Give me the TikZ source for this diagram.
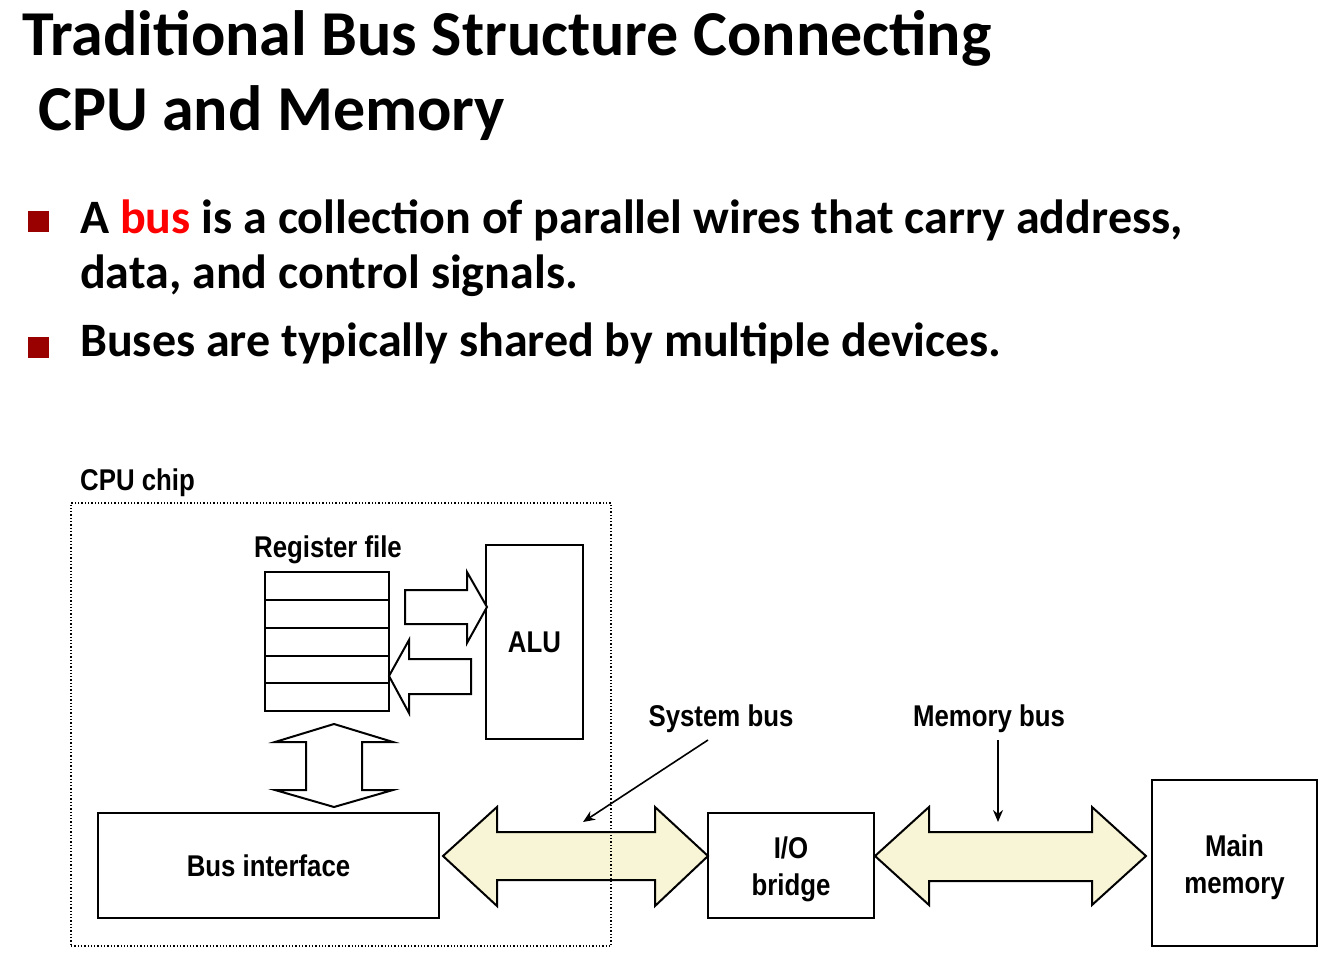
\documentclass[tikz,border=0pt]{standalone}
\usepackage{fontspec}
\setmainfont{Carlito}
\newfontfamily\labelfont[FakeStretch=0.86]{Liberation Sans}
\usetikzlibrary{arrows.meta}
\definecolor{busfill}{RGB}{248,244,214}
\definecolor{bulletred}{RGB}{153,0,0}
\definecolor{keyred}{RGB}{255,0,0}
\begin{document}
\begin{tikzpicture}[x=1pt,y=-1pt,
  titletext/.style={anchor=base west,inner sep=0pt,font=\fontsize{64}{72}\selectfont\bfseries},
  bullettext/.style={anchor=base west,inner sep=0pt,font=\fontsize{48}{56}\selectfont\bfseries},
  bulletmark/.style={fill=bulletred,draw=none,minimum size=21pt,inner sep=0pt},
  lbl/.style={inner sep=0pt,font=\labelfont\bfseries\fontsize{30}{37}\selectfont,align=center},
  box/.style={draw,line width=2pt,inner sep=0pt,font=\labelfont\bfseries\fontsize{30}{37}\selectfont,align=center},
  regbox/.style={draw,line width=2pt,inner sep=0pt,minimum width=124pt,minimum height=27.8pt},
  blockarrow/.style={draw,line width=2pt,line join=miter,fill=white},
  busarrow/.style={draw,line width=2pt,line join=miter,fill=busfill},
  pointer/.style={line width=1.6pt,-{Stealth[length=12pt,width=10pt]}}
]
\useasboundingbox (0,0) rectangle (1334,961);

% heading
\node[titletext] (title1) at (22,55) {Traditional Bus Structure Connecting};
\node[titletext] (title2) at (38,130) {CPU and Memory};

% bullet points
\node[bulletmark] (b1) at (38.5,221) {};
\node[bullettext] (t1a) at (80,233) {A \textcolor{keyred}{bus} is a collection of parallel wires that carry address,};
\node[bullettext] (t1b) at (80,288) {data, and control signals.};
\node[bulletmark] (b2) at (38.5,347.5) {};
\node[bullettext] (t2) at (80,356) {Buses are typically shared by multiple devices.};

% system bus (drawn before the chip outline, which runs across it)
\draw[busarrow] (443,856) -- (497,807) -- (497,832) -- (655,832) -- (655,807) -- (708,856)
  -- (655,906) -- (655,880) -- (497,880) -- (497,906) -- cycle;

% CPU chip outline
\node[draw,dotted,line width=1.3pt,inner sep=0pt,minimum width=540pt,minimum height=443pt] (cpu) at (341,724.5) {};
\node[lbl,anchor=base west] (cpulbl) at (80,490) {CPU chip};

% register file
\node[lbl,anchor=base] (reglbl) at (328,557) {Register file};
\node[regbox] (r1) at (327,586) {};
\node[regbox] (r2) at (327,614) {};
\node[regbox] (r3) at (327,642) {};
\node[regbox] (r4) at (327,669.5) {};
\node[regbox] (r5) at (327,697) {};

% ALU
\node[box,minimum width=97pt,minimum height=194pt] (alu) at (534.5,642) {ALU};

% register file <-> ALU
\draw[blockarrow] (405,590) -- (467,590) -- (467,572) -- (487,607) -- (467,643) -- (467,624) -- (405,624) -- cycle;
\draw[blockarrow] (471,659) -- (409,659) -- (409,640) -- (389,676) -- (409,713) -- (409,694) -- (471,694) -- cycle;

% register file <-> bus interface
\draw[blockarrow] (334,724) -- (393,742) -- (362,742) -- (362,790) -- (393,790) -- (334,807)
  -- (275,790) -- (306,790) -- (306,742) -- (275,742) -- cycle;

% bus interface
\node[box,minimum width=341pt,minimum height=105pt] (busif) at (268.5,865.5) {Bus interface};

% I/O bridge
\node[box,minimum width=166pt,minimum height=105pt] (iob) at (791,865.5) {};
\node[lbl,yshift=-4pt] (ioblbl) at (iob.center) {I/O\\bridge};

% memory bus
\draw[busarrow] (875,856) -- (929,807) -- (929,832) -- (1092,832) -- (1092,807) -- (1146,856)
  -- (1092,905) -- (1092,881) -- (929,881) -- (929,905) -- cycle;

% main memory
\node[box,minimum width=165pt,minimum height=166pt] (mem) at (1234.5,863) {};
\node[lbl,yshift=-4pt] (memlbl) at (mem.center) {Main\\memory};

% bus labels with pointers
\node[lbl,anchor=base] (syslbl) at (721,726) {System bus};
\node[lbl,anchor=base] (mbuslbl) at (989,726) {Memory bus};
\coordinate (systail) at (708,740);
\coordinate (syshead) at (583,822);
\coordinate (memtail) at (998,740);
\coordinate (memhead) at (998,822);
\draw[pointer] (systail) -- (syshead);
\draw[pointer] (memtail) -- (memhead);
\end{tikzpicture}
\end{document}
